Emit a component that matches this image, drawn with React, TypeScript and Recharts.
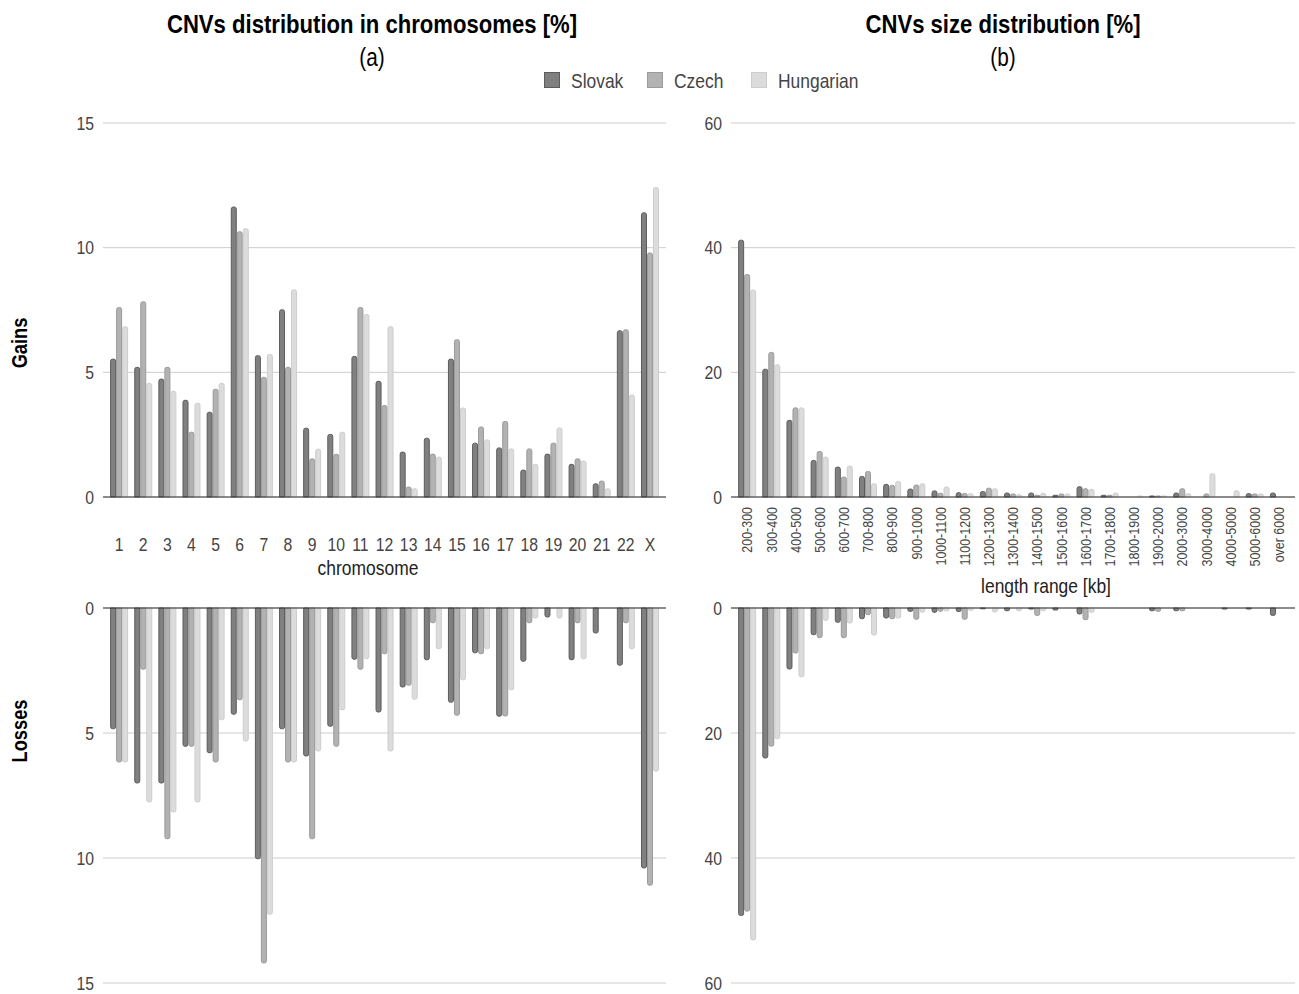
import React from "react";
import {
  Bar,
  BarChart,
  CartesianGrid,
  ReferenceLine,
  XAxis,
  YAxis,
} from "recharts";

// no narrow face installed, so regular Liberation Sans gets squeezed horizontally
const FONT = '"Liberation Sans", Arial, sans-serif';
const SQUEEZE = 0.83;

// categories
const chromosomes = [
  "1", "2", "3", "4", "5", "6", "7", "8", "9", "10", "11", "12",
  "13", "14", "15", "16", "17", "18", "19", "20", "21", "22", "X",
];
const sizeRanges = [
  "200-300", "300-400", "400-500", "500-600", "600-700", "700-800",
  "800-900", "900-1000", "1000-1100", "1100-1200", "1200-1300",
  "1300-1400", "1400-1500", "1500-1600", "1600-1700", "1700-1800",
  "1800-1900", "1900-2000", "2000-3000", "3000-4000", "4000-5000",
  "5000-6000", "over 6000",
];

// (a) gains per chromosome [%]
const gainsSlovakChr = [5.53, 5.2, 4.73, 3.88, 3.4, 11.63, 5.67, 7.51, 2.76, 2.51, 5.64, 4.64, 1.8, 2.36, 5.53, 2.16, 1.97, 1.08, 1.72, 1.31, 0.53, 6.67, 11.4];
const gainsCzechChr = [7.6, 7.83, 5.2, 2.6, 4.32, 10.64, 4.8, 5.2, 1.53, 1.71, 7.6, 3.67, 0.4, 1.72, 6.31, 2.81, 3.03, 1.93, 2.16, 1.53, 0.64, 6.71, 9.79];
const gainsHungarianChr = [6.83, 4.56, 4.24, 3.76, 4.56, 10.76, 5.72, 8.31, 1.92, 2.6, 7.32, 6.83, 0.33, 1.6, 3.57, 2.29, 1.93, 1.31, 2.77, 1.44, 0.33, 4.09, 12.41];

// (a) losses per chromosome [%]
const lossesSlovakChr = [4.83, 7.0, 7.0, 5.53, 5.79, 4.25, 10.03, 4.83, 5.92, 4.73, 2.05, 4.16, 3.16, 2.07, 3.77, 1.79, 4.33, 2.13, 0.36, 2.07, 1.0, 2.29, 10.4];
const lossesCzechChr = [6.16, 2.45, 9.23, 5.53, 6.16, 3.67, 14.2, 6.16, 9.23, 5.53, 2.45, 1.83, 3.09, 0.59, 4.29, 1.83, 4.32, 0.59, 0, 0.59, 0, 0.59, 11.09];
const lossesHungarianChr = [6.16, 7.76, 8.16, 7.76, 4.47, 5.32, 12.25, 6.16, 5.72, 4.07, 2.03, 5.72, 3.65, 1.63, 2.87, 1.63, 3.27, 0.4, 0.4, 2.03, 0, 1.63, 6.53];

// (b) gains per size range [%]
const gainsSlovakSize = [41.2, 20.5, 12.3, 5.87, 4.8, 3.3, 2.03, 1.28, 0.98, 0.7, 0.88, 0.64, 0.64, 0.27, 1.65, 0.27, 0, 0.16, 0.64, 0, 0, 0.53, 0.64];
const gainsCzechSize = [35.7, 23.2, 14.3, 7.3, 3.2, 4.1, 1.87, 1.92, 0.6, 0.56, 1.42, 0.48, 0.27, 0.48, 1.33, 0.27, 0, 0.16, 1.33, 0.48, 0, 0.48, 0];
const gainsHungarianSize = [33.2, 21.2, 14.3, 6.4, 4.96, 2.13, 2.5, 2.13, 1.6, 0.53, 1.33, 0.37, 0.59, 0.48, 1.23, 0.64, 0.16, 0.16, 0.53, 3.73, 1.0, 0.48, 0];

// (b) losses per size range [%]
const lossesSlovakSize = [49.2, 24.0, 9.76, 4.27, 2.29, 1.71, 1.6, 0.53, 0.69, 0.56, 0.13, 0.43, 0.16, 0.32, 0.96, 0, 0, 0.43, 0.43, 0, 0.16, 0.16, 1.2];
const lossesCzechSize = [48.5, 22.1, 7.2, 4.75, 4.75, 1.07, 1.71, 1.8, 0.5, 1.8, 0, 0, 1.2, 0, 1.87, 0, 0, 0.53, 0.43, 0, 0, 0, 0];
const lossesHungarianSize = [53.1, 20.9, 11.0, 1.97, 2.4, 4.32, 1.6, 0.66, 0.45, 0.35, 0.64, 0.43, 0.43, 0, 0.69, 0, 0, 0, 0, 0, 0, 0, 0];

const chrTicks = [0, 5, 10, 15];
const sizeTicks = [0, 20, 40, 60];

const series = [
  { key: "slovak", name: "Slovak", fill: "#808080", stroke: "#5c5c5c" },
  { key: "czech", name: "Czech", fill: "#b2b2b2", stroke: "#9a9a9a" },
  { key: "hungarian", name: "Hungarian", fill: "#dcdcdc", stroke: "#cdcdcd" },
];

const build = (cats: string[], s: number[], c: number[], h: number[]) =>
  cats.map((name, i) => ({ name, slovak: s[i], czech: c[i], hungarian: h[i] }));

const chrGains = build(chromosomes, gainsSlovakChr, gainsCzechChr, gainsHungarianChr);
const chrLosses = build(chromosomes, lossesSlovakChr, lossesCzechChr, lossesHungarianChr);
const sizeGains = build(sizeRanges, gainsSlovakSize, gainsCzechSize, gainsHungarianSize);
const sizeLosses = build(sizeRanges, lossesSlovakSize, lossesCzechSize, lossesHungarianSize);

const bars = () =>
  series.map((s) => (
    <Bar
      key={s.key}
      dataKey={s.key}
      name={s.name}
      fill={s.fill}
      stroke={s.stroke}
      strokeWidth={1}
      radius={[2, 2, 0, 0]}
      isAnimationActive={false}
    />
  ));

const YTick = (props: any) => {
  const { x, y, payload } = props;
  return (
    <g transform={`translate(${x},${y}) scale(${SQUEEZE},1)`}>
      <text textAnchor="end" dy="0.35em" fontSize={19} fill="#444" fontFamily={FONT}>
        {payload.value}
      </text>
    </g>
  );
};

const ChrTick = (props: any) => {
  const { x, y, payload } = props;
  return (
    <g transform={`translate(${x},${y}) scale(${SQUEEZE},1)`}>
      <text textAnchor="middle" dy="0.71em" fontSize={19} fill="#444" fontFamily={FONT}>
        {payload.value}
      </text>
    </g>
  );
};

const RotatedTick = (props: any) => {
  const { x, y, payload } = props;
  return (
    <g transform={`translate(${x},${y}) rotate(-90) scale(${SQUEEZE},1)`}>
      <text textAnchor="end" dy="0.35em" fontSize={15} fill="#444" fontFamily={FONT}>
        {payload.value}
      </text>
    </g>
  );
};

const Centered = ({ x, y, size, bold, color, rotate, squeeze, children }: any) => (
  <div
    style={{
      position: "absolute",
      left: x,
      top: y,
      transform: `translate(-50%, -50%)${rotate ? " rotate(-90deg)" : ""} scaleX(${squeeze || SQUEEZE})`,
      whiteSpace: "nowrap",
      fontFamily: FONT,
      fontSize: size,
      fontWeight: bold ? "bold" : "normal",
      color: color || "#000",
      lineHeight: 1,
    }}
  >
    {children}
  </div>
);

function LegendRow() {
  const pos = [544, 647, 751];
  return (
    <>
      {series.map((s, i) => (
        <div
          key={s.key}
          style={{
            position: "absolute",
            left: pos[i],
            top: 72,
            height: 16,
            display: "flex",
            alignItems: "center",
            fontFamily: FONT,
            fontSize: 21,
            color: "#444",
            whiteSpace: "nowrap",
          }}
        >
          <span
            style={{
              display: "inline-block",
              width: 14,
              height: 14,
              background: s.fill,
              border: `1px solid ${s.stroke}`,
              marginRight: 11,
            }}
          />
          <span
            style={{
              display: "inline-block",
              transform: `scaleX(${SQUEEZE})`,
              transformOrigin: "left center",
              lineHeight: 1,
            }}
          >
            {s.name}
          </span>
        </div>
      ))}
    </>
  );
}

function App() {
  return (
    <div
      style={{
        position: "absolute",
        left: 0,
        top: 0,
        width: 1299,
        height: 994,
        background: "#fff",
        overflow: "hidden",
      }}
    >
      <Centered x={372} y={24} size={26} bold squeeze={0.85}>
        CNVs distribution in chromosomes [%]
      </Centered>
      <Centered x={372} y={57} size={25}>
        (a)
      </Centered>
      <Centered x={1003} y={24} size={26} bold squeeze={0.85}>
        CNVs size distribution [%]
      </Centered>
      <Centered x={1003} y={57} size={25}>
        (b)
      </Centered>
      <LegendRow />
      <Centered x={20} y={343} size={22} bold rotate>
        Gains
      </Centered>
      <Centered x={20} y={731} size={22} bold rotate>
        Losses
      </Centered>
      <Centered x={368} y={567} size={21} color="#222">
        chromosome
      </Centered>
      <Centered x={1046} y={585} size={21} color="#222">
        length range [kb]
      </Centered>

      {/* (a) gains */}
      <div style={{ position: "absolute", left: 0, top: 100 }}>
        <BarChart
          width={680}
          height={490}
          data={chrGains}
          margin={{ top: 23, right: 14, left: 0, bottom: 13 }}
          barCategoryGap="15%"
          barGap={1}
        >
          <CartesianGrid vertical={false} stroke="#cccccc" />
          <XAxis
            dataKey="name"
            interval={0}
            tickLine={false}
            axisLine={false}
            tickSize={0}
            tickMargin={40}
            height={80}
            padding={{ left: 4, right: 4 }}
            tick={<ChrTick />}
          />
          <YAxis
            domain={[0, 15]}
            ticks={chrTicks}
            width={103}
            tickLine={false}
            axisLine={false}
            tickSize={0}
            tickMargin={9}
            tick={<YTick />}
          />
          <ReferenceLine y={0} stroke="#333" />
          {bars()}
        </BarChart>
      </div>

      {/* (a) losses */}
      <div style={{ position: "absolute", left: 0, top: 590 }}>
        <BarChart
          width={680}
          height={404}
          data={chrLosses}
          margin={{ top: 18, right: 14, left: 0, bottom: 11 }}
          barCategoryGap="15%"
          barGap={1}
        >
          <CartesianGrid vertical={false} stroke="#cccccc" />
          <XAxis dataKey="name" hide padding={{ left: 4, right: 4 }} />
          <YAxis
            domain={[0, 15]}
            ticks={chrTicks}
            reversed
            width={103}
            tickLine={false}
            axisLine={false}
            tickSize={0}
            tickMargin={9}
            tick={<YTick />}
          />
          <ReferenceLine y={0} stroke="#333" />
          {bars()}
        </BarChart>
      </div>

      {/* (b) gains */}
      <div style={{ position: "absolute", left: 630, top: 100 }}>
        <BarChart
          width={669}
          height={490}
          data={sizeGains}
          margin={{ top: 23, right: 4, left: 0, bottom: 13 }}
          barCategoryGap="15%"
          barGap={1}
        >
          <CartesianGrid vertical={false} stroke="#cccccc" />
          <XAxis
            dataKey="name"
            interval={0}
            tickLine={false}
            axisLine={false}
            tickSize={0}
            tickMargin={10}
            height={80}
            padding={{ left: 4, right: 4 }}
            tick={<RotatedTick />}
          />
          <YAxis
            domain={[0, 60]}
            ticks={sizeTicks}
            width={101}
            tickLine={false}
            axisLine={false}
            tickSize={0}
            tickMargin={9}
            tick={<YTick />}
          />
          <ReferenceLine y={0} stroke="#333" />
          {bars()}
        </BarChart>
      </div>

      {/* (b) losses */}
      <div style={{ position: "absolute", left: 630, top: 590 }}>
        <BarChart
          width={669}
          height={404}
          data={sizeLosses}
          margin={{ top: 18, right: 4, left: 0, bottom: 11 }}
          barCategoryGap="15%"
          barGap={1}
        >
          <CartesianGrid vertical={false} stroke="#cccccc" />
          <XAxis dataKey="name" hide padding={{ left: 4, right: 4 }} />
          <YAxis
            domain={[0, 60]}
            ticks={sizeTicks}
            reversed
            width={101}
            tickLine={false}
            axisLine={false}
            tickSize={0}
            tickMargin={9}
            tick={<YTick />}
          />
          <ReferenceLine y={0} stroke="#333" />
          {bars()}
        </BarChart>
      </div>
    </div>
  );
}

export default App;
